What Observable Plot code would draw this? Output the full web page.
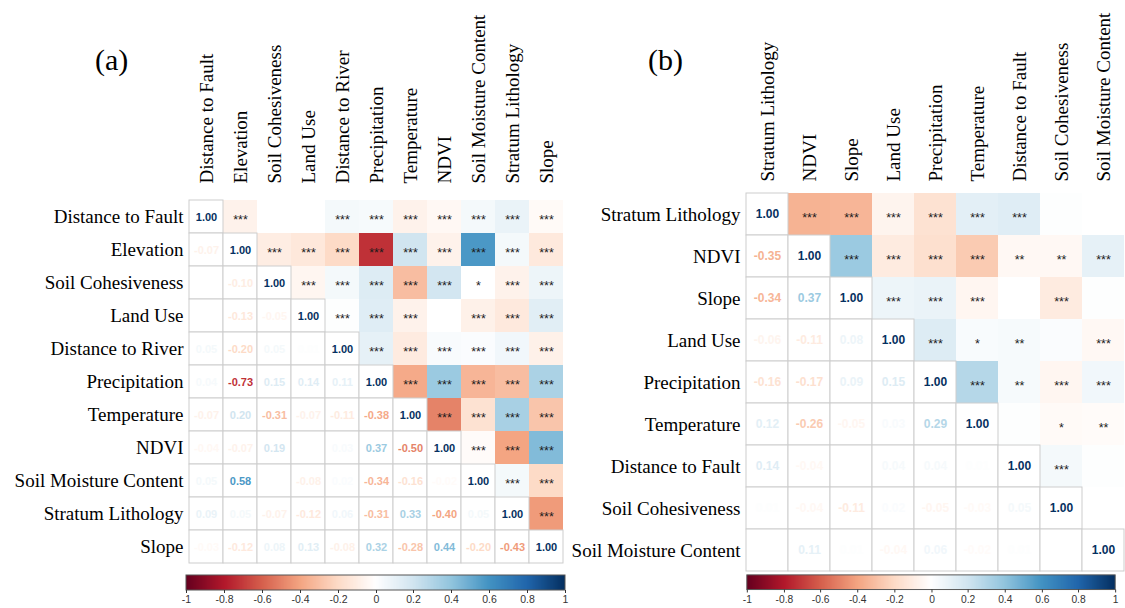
<!DOCTYPE html>
<html>
<head>
<meta charset="utf-8">
<script src="https://cdn.jsdelivr.net/npm/d3@7"></script>
<script src="https://cdn.jsdelivr.net/npm/@observablehq/plot@0.6"></script>
<style>
  html, body { margin: 0; padding: 0; background: #fff; }
  #root { position: relative; width: 1125px; height: 608px; overflow: hidden; background: #fff; }
  .abs { position: absolute; }
  .tag { font-family: "Liberation Serif", "Times New Roman", serif; font-size: 30px; color: #000; line-height: 1; }
</style>
</head>
<body>
<div id="root"></div>
<script>
// ---------------- Panel (a) data ----------------
const varsA = ["Distance to Fault", "Elevation", "Soil Cohesiveness", "Land Use", "Distance to River",
  "Precipitation", "Temperature", "NDVI", "Soil Moisture Content", "Stratum Lithology", "Slope"];
// lower triangle: row i holds correlations with columns 0..i-1
const lowerA = [
  [],
  [-0.07],
  [0.00, -0.10],
  [0.00, -0.13, -0.05],
  [0.05, -0.20, 0.05, 0.01],
  [0.04, -0.73, 0.15, 0.14, 0.11],
  [-0.07, 0.20, -0.31, -0.07, -0.11, -0.38],
  [-0.04, -0.07, 0.19, 0.00, 0.03, 0.37, -0.50],
  [0.05, 0.58, 0.00, -0.08, 0.02, -0.34, -0.16, -0.02],
  [0.09, 0.05, -0.07, -0.12, 0.06, -0.31, 0.33, -0.40, 0.05],
  [-0.03, -0.12, 0.08, 0.13, -0.08, 0.32, -0.28, 0.44, -0.20, -0.43]
];
// upper triangle significance: row i holds columns i+1..n-1
const starsA = [
  ["***", "", "", "***", "***", "***", "***", "***", "***", "***"],
  ["***", "***", "***", "***", "***", "***", "***", "***", "***"],
  ["***", "***", "***", "***", "***", "*", "***", "***"],
  ["***", "***", "***", "", "***", "***", "***"],
  ["***", "***", "***", "***", "***", "***"],
  ["***", "***", "***", "***", "***"],
  ["***", "***", "***", "***"],
  ["***", "***", "***"],
  ["***", "***"],
  ["***"],
  []
];

// ---------------- Panel (b) data ----------------
const varsB = ["Stratum Lithology", "NDVI", "Slope", "Land Use", "Precipitation", "Temperature",
  "Distance to Fault", "Soil Cohesiveness", "Soil Moisture Content"];
const lowerB = [
  [],
  [-0.35],
  [-0.34, 0.37],
  [-0.06, -0.11, 0.08],
  [-0.16, -0.17, 0.09, 0.15],
  [0.12, -0.26, -0.05, 0.03, 0.29],
  [0.14, -0.04, 0.00, 0.04, 0.04, 0.01],
  [0.01, -0.04, -0.11, 0.02, -0.05, -0.03, 0.05],
  [0.00, 0.11, 0.01, -0.04, 0.06, -0.02, 0.01, 0.00]
];
const starsB = [
  ["***", "***", "***", "***", "***", "***", "", ""],
  ["***", "***", "***", "***", "**", "**", "***"],
  ["***", "***", "***", "", "***", ""],
  ["***", "*", "**", "", "***"],
  ["***", "**", "***", "***"],
  ["", "*", "**"],
  ["***", ""],
  [""],
  []
];

const colorbarTicks = [-1, -0.8, -0.6, -0.4, -0.2, 0, 0.2, 0.4, 0.6, 0.8, 1];
// diverging red-white-blue palette (one colour per colour-bar stop)
const corrPalette = ["#67001F", "#B2182B", "#D6604D", "#F4A582", "#FDDBC7", "#FFFFFF",
  "#D1E5F0", "#92C5DE", "#4393C3", "#2166AC", "#053061"];

// ---------------- helpers ----------------
function buildCells(vars, lower, stars) {
  const n = vars.length, out = [];
  for (let i = 0; i < n; i++) {
    for (let j = 0; j < n; j++) {
      let value, part, sig = "";
      if (i === j) { value = 1; part = "diag"; }
      else if (j < i) { value = lower[i][j]; part = "lower"; }
      else { value = lower[j][i]; part = "upper"; sig = stars[i][j - i - 1]; }
      out.push({row: vars[i], col: vars[j], value, part, sig});
    }
  }
  return out;
}

const colorOpts = {type: "linear", domain: colorbarTicks, range: corrPalette, interpolate: "rgb"};

function matrixPlot(vars, cells, o) {
  const upper = cells.filter(d => d.part === "upper");
  const low = cells.filter(d => d.part !== "upper");
  return Plot.plot({
    width: o.width, height: o.height,
    marginLeft: o.ml, marginRight: o.mr, marginTop: o.mt, marginBottom: o.mb,
    x: {domain: vars, padding: 0, axis: null},
    y: {domain: vars, padding: 0, axis: null},
    color: colorOpts,
    style: {fontFamily: "'Liberation Serif', 'Times New Roman', serif", fontSize: "19px", color: "#000", background: "transparent", overflow: "visible"},
    marks: [
      Plot.cell(upper, {x: "col", y: "row", fill: "value", inset: 0}),
      Plot.cell(low, {x: "col", y: "row", fill: "white", stroke: "#cdcdcd", strokeWidth: 1, inset: 0}),
      Plot.text(low, {x: "col", y: "row", text: d => d.value.toFixed(2), fill: "value",
        fontFamily: "'Liberation Sans', Arial, sans-serif", fontSize: o.numSize, fontWeight: "bold"}),
      Plot.text(upper, {x: "col", y: "row", text: "sig", fill: "#1a1a1a",
        fontFamily: "'Liberation Sans', Arial, sans-serif", fontSize: o.starSize, dy: 3}),
      Plot.axisY({anchor: "left", tickSize: 0, tickPadding: o.ypad, label: null}),
      Plot.axisX({anchor: "top", tickSize: 0, tickRotate: -90, tickPadding: o.xpad, label: null})
    ]
  });
}

function colorbar(width) {
  const leg = Plot.legend({
    color: colorOpts, width: width + 20, marginLeft: 10, marginRight: 10,
    height: 36, marginTop: 5, marginBottom: 16, tickSize: 3,
    ticks: colorbarTicks, tickFormat: d => String(d)
  });
  leg.style.fontFamily = "'Liberation Sans', Arial, sans-serif";
  leg.style.fontSize = "10.5px";
  leg.style.color = "#333";
  leg.style.background = "transparent";
  const s = d3.select(leg);
  s.selectAll(".tick line").attr("y1", 0).attr("stroke", "#333");
  const img = s.select("image");
  s.insert("rect", "g")
    .attr("x", img.attr("x")).attr("y", img.attr("y"))
    .attr("width", img.attr("width")).attr("height", img.attr("height"))
    .attr("fill", "none").attr("stroke", "#555").attr("stroke-width", 1);
  return leg;
}

function place(el, left, top) {
  const wrap = document.createElement("div");
  wrap.className = "abs";
  wrap.style.left = left + "px";
  wrap.style.top = top + "px";
  wrap.appendChild(el);
  root.appendChild(wrap);
}

const root = document.getElementById("root");

// Panel (a)
const plotA = matrixPlot(varsA, buildCells(varsA, lowerA, starsA),
  {width: 570, height: 569, ml: 186, mr: 4, mt: 195, mb: 2, numSize: 11, starSize: 12.5, ypad: 3, xpad: 12});
place(plotA, 0, 0);
place(colorbar(379), 176, 570);

// Panel (b)
const plotB = matrixPlot(varsB, buildCells(varsB, lowerB, starsB),
  {width: 565, height: 573, ml: 186, mr: 1, mt: 193, mb: 2, numSize: 12, starSize: 12.5, ypad: 6, xpad: 12});
place(plotB, 560, 0);
place(colorbar(377), 737, 570);

// Panel tags
for (const [txt, left, top] of [["(a)", 95, 45], ["(b)", 648, 45]]) {
  const t = document.createElement("div");
  t.className = "abs tag";
  t.textContent = txt;
  t.style.left = left + "px";
  t.style.top = top + "px";
  root.appendChild(t);
}
</script>
</body>
</html>
